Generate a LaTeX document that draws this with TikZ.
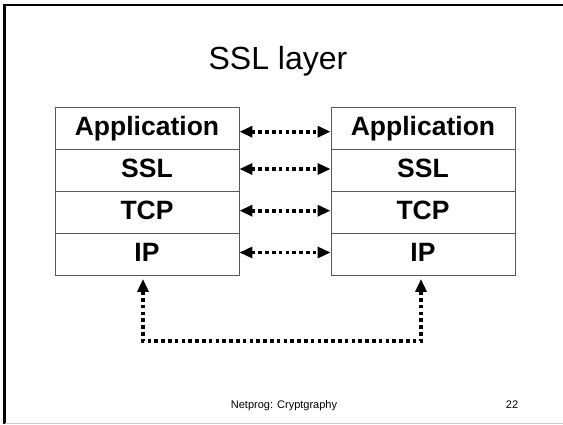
\documentclass[tikz,border=0pt]{standalone}
\usepackage{fontspec}
\setmainfont{Liberation Sans}
\usetikzlibrary{arrows.meta}
\begin{document}
\begin{tikzpicture}[x=1pt,y=-1pt,
  layer/.style={draw=black!65, line width=0.9pt, minimum width=184pt, minimum height=42pt,
    inner sep=0pt, text height=19pt, text depth=5pt,
    font=\fontsize{26.5}{30}\selectfont\bfseries},
  conn/.style={line width=3.6pt, dash pattern=on 3.6pt off 3.2pt,
    {Triangle[length=13pt,width=11pt]}-{Triangle[length=13pt,width=11pt]}}
]
\useasboundingbox (0,0) rectangle (563,424);
\fill[white] (0,0) rectangle (563,424);
% slide frame
\draw[black, line width=2.3pt] (4.5,424) -- (4.5,5) -- (563,5);
\draw[black!20, line width=1pt] (5,423) -- (563,423);
% title
\node[anchor=base, inner sep=0pt, font=\fontsize{32}{36}\selectfont] (title) at (278,69.3) {SSL layer};
% left stack
\node[layer] (appL) at (147,128) {Application};
\node[layer] (sslL) at (147,170) {SSL};
\node[layer] (tcpL) at (147,212) {TCP};
\node[layer] (ipL)  at (147,254.5) {IP};
% right stack
\node[layer] (appR) at (423,128) {Application};
\node[layer] (sslR) at (423,170) {SSL};
\node[layer] (tcpR) at (423,212) {TCP};
\node[layer] (ipR)  at (423,254.5) {IP};
% peer arrows
\draw[conn] ([yshift=-3.7pt]appL.east) -- ([yshift=-3.7pt]appR.west);
\draw[conn] ([yshift=1pt]sslL.east) -- ([yshift=1pt]sslR.west);
\draw[conn] ([yshift=1.3pt]tcpL.east) -- ([yshift=1.3pt]tcpR.west);
\draw[conn] ([yshift=2pt]ipL.east) -- ([yshift=2pt]ipR.west);
% physical link
\draw[conn] ([xshift=-4pt,yshift=-3pt]ipL.south) -- ++(0,62) -| ([xshift=-2pt,yshift=-3pt]ipR.south);
% footer
\node[anchor=base, inner sep=0pt, font=\fontsize{11}{13}\selectfont] (foot) at (284,408.3) {Netprog: Cryptgraphy};
\node[anchor=base, inner sep=0pt, font=\fontsize{11}{13}\selectfont] (page) at (512,408.3) {22};
\end{tikzpicture}
\end{document}
